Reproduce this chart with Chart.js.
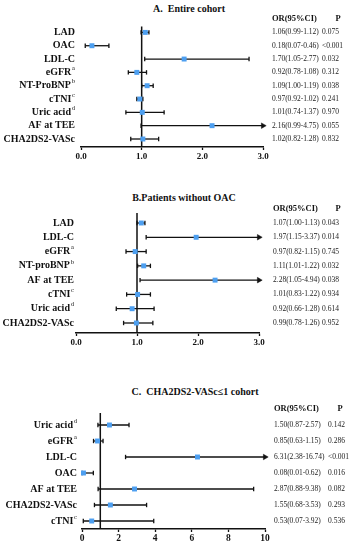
<!DOCTYPE html>
<html>
<head>
<meta charset="utf-8">
<script src="https://cdn.jsdelivr.net/npm/chart.js@4.4.1/dist/chart.umd.min.js"></script>
<style>
  html, body { margin: 0; padding: 0; background: #fff; }
  #wrap { position: relative; width: 363px; height: 550px; overflow: hidden; font-family: "Liberation Serif", serif; }
  .panel { position: absolute; left: 0; width: 363px; }
  .ttl { position: absolute; font-weight: bold; font-size: 10px; white-space: nowrap; transform: translate(-50%, -50%); color: #111; }
</style>
</head>
<body>
<div id="wrap">
  <div class="ttl" style="left:189px;top:8px">A.&nbsp; Entire cohort</div>
  <div class="ttl" style="left:184px;top:197px">B.Patients without OAC</div>
  <div class="ttl" style="left:195px;top:391px">C.&nbsp; CHA2DS2-VASc≤1 cohort</div>
  <div class="panel" style="top:0;height:183px"><canvas id="cA"></canvas></div>
  <div class="panel" style="top:183px;height:183px"><canvas id="cB"></canvas></div>
  <div class="panel" style="top:366px;height:184px"><canvas id="cC"></canvas></div>
</div>
<script>
// A. Entire cohort
const labelsA = ['LAD', 'OAC', 'LDL-C', 'eGFR', 'NT-ProBNP', 'cTNI', 'Uric acid', 'AF at TEE', 'CHA2DS2-VASc'];
const supA = ['', '', '', 'a', 'b', 'c', 'd', '', ''];
const orA = [1.06, 0.18, 1.70, 0.92, 1.09, 0.97, 1.01, 2.16, 1.02];
const loA = [0.99, 0.07, 1.05, 0.78, 1.00, 0.92, 0.74, 0.99, 0.82];
const hiA = [1.12, 0.46, 2.77, 1.08, 1.19, 1.02, 1.37, 4.75, 1.28];
const pA = ['0.075', '<0.001', '0.032', '0.312', '0.038', '0.241', '0.970', '0.055', '0.832'];

// B. Patients without OAC
const labelsB = ['LAD', 'LDL-C', 'eGFR', 'NT-proBNP', 'AF at TEE', 'cTNI', 'Uric acid', 'CHA2DS2-VASc'];
const supB = ['', '', 'a', 'b', '', 'c', 'd', ''];
const orB = [1.07, 1.97, 0.97, 1.11, 2.28, 1.01, 0.92, 0.99];
const loB = [1.00, 1.15, 0.82, 1.01, 1.05, 0.83, 0.66, 0.78];
const hiB = [1.13, 3.37, 1.15, 1.22, 4.94, 1.22, 1.28, 1.26];
const pB = ['0.043', '0.014', '0.745', '0.032', '0.038', '0.934', '0.614', '0.952'];

// C. CHA2DS2-VASc<=1 cohort
const labelsC = ['Uric acid', 'eGFR', 'LDL-C', 'OAC', 'AF at TEE', 'CHA2DS2-VASc', 'cTNI'];
const supC = ['d', 'a', '', '', '', '', 'c'];
const orC = [1.50, 0.85, 6.31, 0.08, 2.87, 1.55, 0.53];
const loC = [0.87, 0.63, 2.38, 0.01, 0.88, 0.68, 0.07];
const hiC = [2.57, 1.15, 16.74, 0.62, 9.38, 3.53, 3.92];
const pC = ['0.142', '0.286', '<0.001', '0.016', '0.082', '0.293', '0.536'];

const xMaxA = 3, xStepA = 1;
const xMaxB = 3, xStepB = 1;
const xMaxC = 10, xStepC = 2;

const FONT = '"Liberation Serif", "Times New Roman", serif';
const BLUE = '#4d9ff0';

function forest(id, d, lay) {
  const rows = d.labels.map((_, i) => i);
  const ciSets = rows.map(i => ({
    data: [{ x: d.lo[i], y: i }, { x: Math.min(d.hi[i], d.xMax), y: i }],
    showLine: true, borderColor: '#111', borderWidth: 1.3, pointRadius: 0, clip: false, order: 3
  }));
  const caps = [];
  rows.forEach(i => {
    caps.push({ x: d.lo[i], y: i });
    if (d.hi[i] <= d.xMax) caps.push({ x: d.hi[i], y: i });
  });
  const arrows = rows.filter(i => d.hi[i] > d.xMax).map(i => ({ x: d.xMax, y: i }));

  const textPlugin = {
    id: 'forestText',
    afterDraw(chart) {
      const ctx = chart.ctx;
      const ys = chart.scales.y;
      ctx.save();
      ctx.textBaseline = 'middle';
      rows.forEach(i => {
        const y = ys.getPixelForValue(i);
        const sup = d.sup[i];
        let sw = 0;
        ctx.fillStyle = '#111';
        if (sup) { ctx.font = '6.5px ' + FONT; sw = ctx.measureText(sup).width + 0.8; }
        ctx.font = 'bold 10px ' + FONT;
        ctx.textAlign = 'right';
        ctx.fillText(d.labels[i], lay.labelRight - sw, y);
        if (sup) {
          ctx.font = '6.5px ' + FONT;
          ctx.textAlign = 'left';
          ctx.fillText(sup, lay.labelRight - sw + 0.8, y - 4);
        }
        ctx.font = '7.5px ' + FONT;
        ctx.textAlign = 'left';
        ctx.fillStyle = '#222';
        ctx.fillText(d.or[i].toFixed(2) + '(' + d.lo[i].toFixed(2) + '-' + d.hi[i].toFixed(2) + ')', lay.orX, y);
        ctx.fillText(d.p[i], lay.pX, y);
      });
      const hy = ys.getPixelForValue(-1);
      ctx.fillStyle = '#111';
      ctx.font = 'bold 8.5px ' + FONT;
      ctx.textAlign = 'left';
      ctx.fillText('OR(95%CI)', lay.orX, hy);
      ctx.textAlign = 'center';
      ctx.fillText('P', lay.pHead, hy);
      ctx.restore();
    }
  };

  return new Chart(document.getElementById(id), {
    type: 'scatter',
    data: {
      datasets: [
        {
          data: [{ x: 1, y: lay.yMin }, { x: 1, y: lay.yMax }],
          showLine: true, borderColor: '#111', borderWidth: 1.5, pointRadius: 0, clip: false, order: 4
        },
        ...ciSets,
        {
          data: caps, pointStyle: 'line', rotation: 90, pointRadius: 2.2,
          borderColor: '#111', borderWidth: 1.3, clip: false, order: 2
        },
        {
          data: arrows, pointStyle: 'triangle', rotation: 90, pointRadius: 3.2,
          backgroundColor: '#111', borderColor: '#111', borderWidth: 0.5, clip: false, order: 2
        },
        {
          data: rows.map(i => ({ x: d.or[i], y: i })), pointStyle: 'rect', pointRadius: 3.5,
          backgroundColor: BLUE, borderColor: BLUE, borderWidth: 0, clip: false, order: 1
        }
      ]
    },
    options: {
      responsive: true,
      maintainAspectRatio: false,
      animation: false,
      events: [],
      layout: { padding: { left: lay.padL, right: lay.padR, top: lay.padT, bottom: lay.padB } },
      plugins: { legend: { display: false }, tooltip: { enabled: false } },
      scales: {
        x: {
          type: 'linear', min: 0, max: d.xMax,
          afterFit: s => { s.height = 20; },
          border: { display: true, color: '#111', width: 1.6 },
          grid: { display: true, drawOnChartArea: false, drawTicks: true, tickLength: 3, tickColor: '#111', tickWidth: 1.3 },
          ticks: {
            stepSize: d.xStep, autoSkip: false, maxRotation: 0, padding: 1, color: '#111',
            font: { family: FONT, weight: 'bold', size: lay.tickSize },
            callback: v => lay.tickFixed ? v.toFixed(1) : String(v)
          }
        },
        y: { type: 'linear', display: false, reverse: true, min: lay.yMin, max: lay.yMax }
      }
    },
    plugins: [textPlugin]
  });
}

forest('cA',
  { labels: labelsA, sup: supA, or: orA, lo: loA, hi: hiA, p: pA, xMax: xMaxA, xStep: xStepA },
  { padL: 81, padR: 100, padT: 26.4, padB: 16, yMin: -0.45, yMax: 8.6, labelRight: 75, orX: 272, pX: 322, pHead: 338, tickSize: 9, tickFixed: true });
forest('cB',
  { labels: labelsB, sup: supB, or: orB, lo: loB, hi: hiB, p: pB, xMax: xMaxB, xStep: xStepB },
  { padL: 76, padR: 104, padT: 30, padB: 13, yMin: -0.7, yMax: 7.7, labelRight: 74, orX: 273, pX: 322, pHead: 338, tickSize: 9, tickFixed: true });
forest('cC',
  { labels: labelsC, sup: supC, or: orC, lo: loC, hi: hiC, p: pC, xMax: xMaxC, xStep: xStepC },
  { padL: 82, padR: 98, padT: 47, padB: 1, yMin: -0.75, yMax: 6.5, labelRight: 77, orX: 274, pX: 328, pHead: 340, tickSize: 9.5, tickFixed: false });
</script>
</body>
</html>
